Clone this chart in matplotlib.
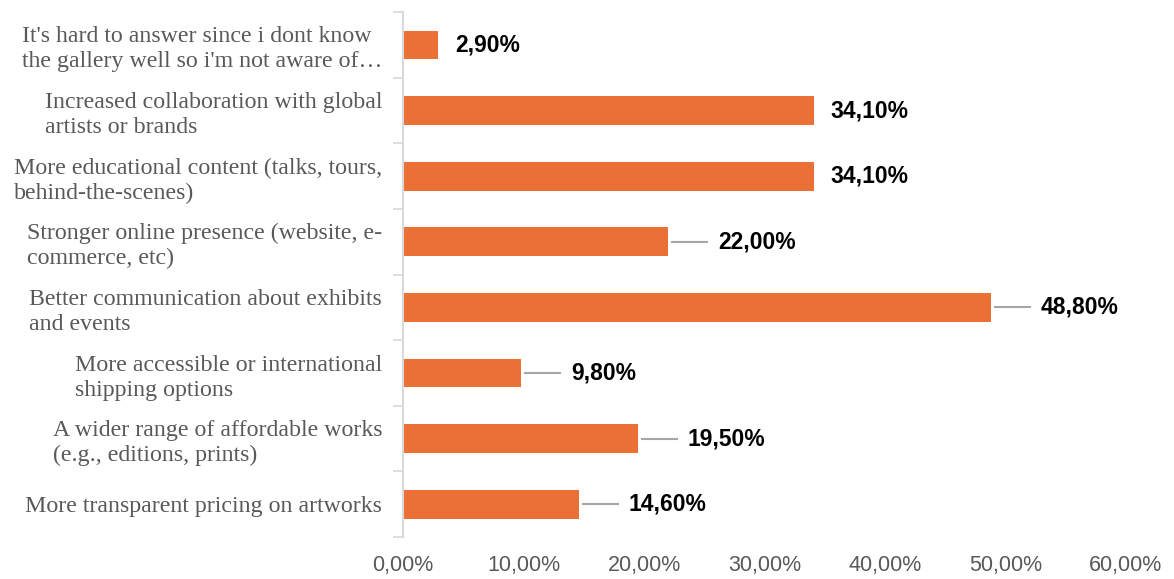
import matplotlib.pyplot as plt
import numpy as np
from matplotlib.ticker import FuncFormatter

# survey answers, top row first
answers = [
    "It's hard to answer since i dont know\nthe gallery well so i'm not aware of\u2026",
    "Increased collaboration with global\nartists or brands",
    "More educational content (talks, tours,\nbehind-the-scenes)",
    "Stronger online presence (website, e-\ncommerce, etc)",
    "Better communication about exhibits\nand events",
    "More accessible or international\nshipping options",
    "A wider range of affordable works\n(e.g., editions, prints)",
    "More transparent pricing on artworks",
]
shares = [2.9, 34.1, 34.1, 22.0, 48.8, 9.8, 19.5, 14.6]
x_ticks = [0, 10, 20, 30, 40, 50, 60]

bar_color = "#EA7035"
grey_text = "#595959"
axis_grey = "#D9D9D9"
leader_grey = "#A6A6A6"

# which labels sit further out with a leader line
with_leader = [False, False, False, True, True, True, True, True]

def pct(v):
    return "{:.2f}%".format(v).replace(".", ",")

fig = plt.figure(figsize=(11.74, 5.79), dpi=100)
ax = fig.add_axes([0.3433, 0.0725, 0.6158, 0.9065])

n = len(answers)
y = np.arange(n)
ax.barh(y, shares, height=0.44, color=bar_color)
ax.set_ylim(n - 0.5, -0.5)
ax.set_xlim(0, 60)

# value labels
px_per_unit = ax.get_window_extent().width / 60.0
for yi, v, lead in zip(y, shares, with_leader):
    if lead:
        x0 = v + 3 / px_per_unit
        x1 = v + 40 / px_per_unit
        ax.plot([x0, x1], [yi, yi], color=leader_grey, lw=1.5,
                solid_capstyle="butt", clip_on=False)
        xt = v + 50 / px_per_unit
    else:
        xt = v + 17 / px_per_unit
    ax.text(xt, yi, pct(v), ha="left", va="center", fontsize=16.5,
            fontweight="bold", family="Liberation Sans", color="black",
            clip_on=False)

# category labels
ax.set_yticks(y)
ax.set_yticklabels(answers, fontsize=17.2, family="Liberation Serif",
                   color=grey_text, ha="right", multialignment="left",
                   linespacing=1.25)
ax.tick_params(axis="y", which="major", length=0, pad=15)
ax.set_yticks(np.arange(-0.5, n, 1.0), minor=True)
ax.tick_params(axis="y", which="minor", length=7, width=1.2, color=axis_grey)

ax.set_xticks(x_ticks)
ax.xaxis.set_major_formatter(FuncFormatter(lambda v, p: pct(v)))
ax.tick_params(axis="x", length=0, pad=13, labelsize=15.5, labelcolor=grey_text)
for lab in ax.get_xticklabels():
    lab.set_family("Liberation Sans")

for side in ("top", "right", "bottom"):
    ax.spines[side].set_visible(False)
ax.spines["left"].set_color(axis_grey)
ax.spines["left"].set_linewidth(1.5)

fig.savefig("out.png", dpi=100)
